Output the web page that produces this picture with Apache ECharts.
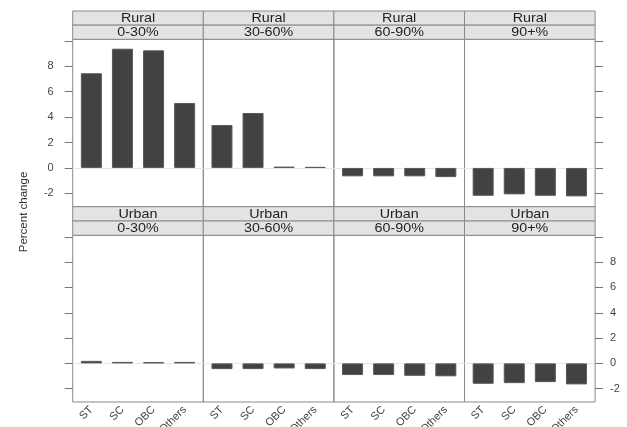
<!DOCTYPE html>
<html>
<head>
<meta charset="utf-8">
<script src="https://cdn.jsdelivr.net/npm/echarts@6/dist/echarts.min.js"></script>
<style>
  html, body { margin: 0; padding: 0; background: #fff; }
  #chart { width: 627px; height: 427px; }
</style>
</head>
<body>
<div id="chart"></div>
<script>
// Caste groups along each panel's x axis
const castes = ['ST', 'SC', 'OBC', 'Others'];
// Panel conditioning variables
const sectors = ['Rural', 'Urban'];
const classes = ['0-30%', '30-60%', '60-90%', '90+%'];

// Percent change, one array per panel
const rural0to30   = [7.45, 9.38, 9.25, 5.11];
const rural30to60  = [3.37, 4.32, 0.10, 0.08];
const rural60to90  = [-0.66, -0.66, -0.66, -0.72];
const rural90plus  = [-2.19, -2.08, -2.19, -2.24];
const urban0to30   = [0.20, 0.12, 0.10, 0.12];
const urban30to60  = [-0.45, -0.45, -0.40, -0.45];
const urban60to90  = [-0.92, -0.92, -0.98, -1.02];
const urban90plus  = [-1.61, -1.56, -1.48, -1.66];

// Tick positions on the percent-change axis
const yTickValues  = [-2, 0, 2, 4, 6, 8, 10];
const yLabelValues = [-2, 0, 2, 4, 6, 8];

const panelValues = [
  [rural0to30, rural30to60, rural60to90, rural90plus],
  [urban0to30, urban30to60, urban60to90, urban90plus]
];

const FONT = '"Liberation Sans", Arial, Helvetica, sans-serif';
const Y_MIN = -3.05, Y_MAX = 10.12;

// Panel geometry (pixels)
const left0 = 72.7, colW = 130.6;
const rows = [
  { stripTop: 11,    plotTop: 39.3,  plotBottom: 206.7 },
  { stripTop: 206.7, plotTop: 235.3, plotBottom: 402 }
];

const grids = [], xAxes = [], yAxes = [], series = [], graphics = [];

rows.forEach((row, r) => {
  for (let c = 0; c < 4; c++) {
    const p = grids.length;
    const x = left0 + c * colW;
    grids.push({
      left: x, top: row.plotTop, width: colW, height: row.plotBottom - row.plotTop,
      containLabel: false, outerBoundsMode: 'none',
      show: true, borderColor: '#8a8a8a', borderWidth: 1, backgroundColor: 'transparent'
    });
    xAxes.push({
      type: 'value', gridIndex: p, min: 0.4, max: 4.6,
      axisLine: { show: false }, axisTick: { show: false }, splitLine: { show: false },
      axisLabel: {
        show: r === 1, customValues: [1, 2, 3, 4],
        formatter: v => castes[Math.round(v) - 1] || '',
        rotate: 45, margin: 6, fontSize: 11, color: '#444', fontFamily: FONT
      }
    });
    const yIdx = yAxes.length;
    yAxes.push({
      type: 'value', gridIndex: p, position: 'left', min: Y_MIN, max: Y_MAX,
      axisLine: { show: false }, splitLine: { show: false },
      axisTick: { show: c === 0, length: 8, customValues: yTickValues, lineStyle: { color: '#777' } },
      axisLabel: {
        show: c === 0 && r === 0, customValues: yLabelValues, margin: 19,
        fontSize: 11, color: '#444', fontFamily: FONT
      }
    });
    if (c === 3) {
      yAxes.push({
        type: 'value', gridIndex: p, position: 'right', min: Y_MIN, max: Y_MAX,
        axisLine: { show: false }, splitLine: { show: false },
        axisTick: { show: true, length: 8, customValues: yTickValues, lineStyle: { color: '#777' } },
        axisLabel: {
          show: r === 1, customValues: yLabelValues, margin: 15,
          fontSize: 11, color: '#444', fontFamily: FONT
        }
      });
    }
    series.push({
      type: 'bar', xAxisIndex: p, yAxisIndex: yIdx, barWidth: 21,
      data: panelValues[r][c].map((v, i) => [i + 1, v]),
      itemStyle: { color: '#424242', borderColor: '#585858', borderWidth: 1 },
      silent: true,
      markLine: {
        silent: true, symbol: 'none', z: 1,
        label: { show: false },
        lineStyle: { color: '#e6e6e6', width: 1, type: 'solid' },
        data: [{ yAxis: 0 }]
      }
    });

    // Two-level strip header: sector on top, class below
    const stripH = (row.plotTop - row.stripTop) / 2;
    [sectors[r], classes[c]].forEach((txt, k) => {
      const y = row.stripTop + k * stripH;
      graphics.push({
        type: 'rect', shape: { x: x, y: y, width: colW, height: stripH },
        style: { fill: '#e3e3e3', stroke: '#8a8a8a', lineWidth: 1 }, z: 10
      });
      graphics.push({
        type: 'text', x: x + colW / 2, y: y + stripH / 2 + 0.5, scaleX: 1.1,
        style: { text: txt, textAlign: 'center', textVerticalAlign: 'middle',
                 font: '13px ' + FONT, fill: '#222' }, z: 11
      });
    });
  }
});

graphics.push({
  type: 'text', x: 24, y: 212, rotation: Math.PI / 2,
  style: { text: 'Percent change', textAlign: 'center', textVerticalAlign: 'middle',
           font: '11.5px ' + FONT, fill: '#333' }
});

const chart = echarts.init(document.getElementById('chart'), null, { renderer: 'canvas' });
chart.setOption({
  animation: false,
  backgroundColor: '#fff',
  grid: grids,
  xAxis: xAxes,
  yAxis: yAxes,
  series: series,
  graphic: graphics
});
</script>
</body>
</html>
